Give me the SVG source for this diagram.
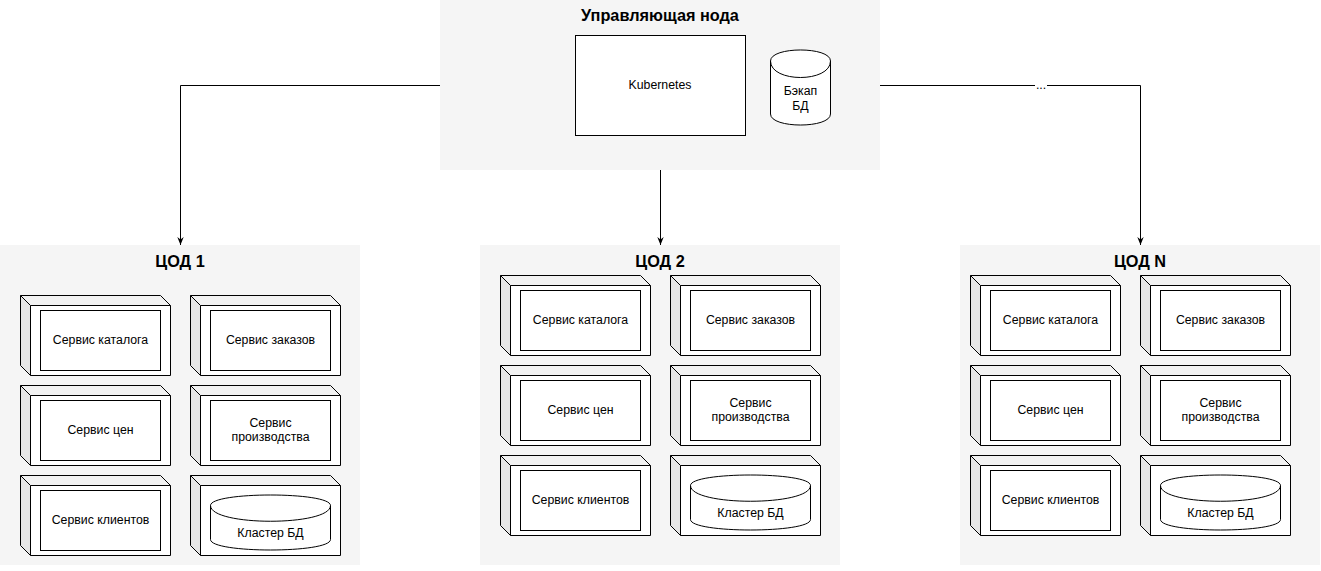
<svg xmlns="http://www.w3.org/2000/svg" xmlns:xlink="http://www.w3.org/1999/xlink" width="1321" height="571" viewBox="0 0 1321 571">
<style>
.bg{fill:#f5f5f5;stroke:none}
.title{font-family:"Liberation Sans",Arial,sans-serif;font-size:16.3px;font-weight:bold;fill:#000;text-anchor:middle}
.lbl{font-family:"Liberation Sans",Arial,sans-serif;font-size:12.3px;fill:#000;text-anchor:middle}
.ln{fill:none;stroke:#000;stroke-width:1}
.w{fill:#fff;stroke:#000;stroke-width:1}
.conn{fill:none;stroke:#000;stroke-width:1}
</style>
<defs>
<marker id="arr" viewBox="0 0 10 10" refX="10" refY="5" markerWidth="8" markerHeight="8" markerUnits="userSpaceOnUse" orient="auto">
<path d="M0,1 L10,5 L0,9 L3,5 Z" fill="#000"/>
</marker>
<g id="node3d">
<path d="M0.5,0.5 H140.5 L150.5,10.5 H10.5 Z" fill="#f2f2f2" stroke="none"/>
<path d="M0.5,0.5 L10.5,10.5 V80.5 L0.5,70.5 Z" fill="#e6e6e6" stroke="none"/>
<rect x="10.5" y="10.5" width="140" height="70" fill="#fff" stroke="none"/>
<path class="ln" d="M0.5,0.5 H140.5 L150.5,10.5 V80.5 H10.5 L0.5,70.5 Z M10.5,80.5 V10.5 L0.5,0.5 M10.5,10.5 H150.5"/>
</g>
<g id="svc">
<use xlink:href="#node3d"/>
<rect class="w" x="20.5" y="15.5" width="120" height="60"/>
</g>
<g id="db">
<use xlink:href="#node3d"/>
<path class="w" d="M20.5,30.5 C20.5,16.5 140.5,16.5 140.5,30.5 V64.5 C140.5,78.5 20.5,78.5 20.5,64.5 Z"/>
<path class="ln" d="M20.5,30.5 C20.5,51.5 140.5,51.5 140.5,30.5"/>
</g>
</defs>

<g id="control-node">
<rect class="bg" x="440" y="0" width="440" height="170"/>
<text class="title" x="660" y="21">Управляющая нода</text>
</g>
<g id="kubernetes">
<rect class="w" x="575.5" y="35.5" width="170" height="100"/>
<text class="lbl" x="660" y="89">Kubernetes</text>
</g>
<g id="backup-db">
<path class="w" d="M770.5,61 C770.5,46.3 830.5,46.3 830.5,61 V114 C830.5,128.7 770.5,128.7 770.5,114 Z"/>
<path class="ln" d="M770.5,61 C770.5,83 830.5,83 830.5,61"/>
<text class="lbl" x="800.5" y="95">Бэкап</text>
<text class="lbl" x="800.5" y="110">БД</text>
</g>

<g id="cod1">
<rect class="bg" x="0" y="245" width="360" height="320"/>
<text class="title" x="180" y="267">ЦОД 1</text>
</g>
<g id="cod1-catalog" transform="translate(20,295)"><use xlink:href="#svc"/><text class="lbl" x="80.5" y="49">Сервис каталога</text></g>
<g id="cod1-orders" transform="translate(190,295)"><use xlink:href="#svc"/><text class="lbl" x="80.5" y="49">Сервис заказов</text></g>
<g id="cod1-prices" transform="translate(20,385)"><use xlink:href="#svc"/><text class="lbl" x="80.5" y="49">Сервис цен</text></g>
<g id="cod1-production" transform="translate(190,385)"><use xlink:href="#svc"/><text class="lbl" x="80.5" y="41.5">Сервис</text><text class="lbl" x="80.5" y="56">производства</text></g>
<g id="cod1-clients" transform="translate(20,475)"><use xlink:href="#svc"/><text class="lbl" x="80.5" y="49">Сервис клиентов</text></g>
<g id="cod1-cluster" transform="translate(190,475)"><use xlink:href="#db"/><text class="lbl" x="80.5" y="62">Кластер БД</text></g>

<g id="cod2">
<rect class="bg" x="480" y="245" width="360" height="320"/>
<text class="title" x="660" y="267">ЦОД 2</text>
</g>
<g id="cod2-catalog" transform="translate(500,275)"><use xlink:href="#svc"/><text class="lbl" x="80.5" y="49">Сервис каталога</text></g>
<g id="cod2-orders" transform="translate(670,275)"><use xlink:href="#svc"/><text class="lbl" x="80.5" y="49">Сервис заказов</text></g>
<g id="cod2-prices" transform="translate(500,365)"><use xlink:href="#svc"/><text class="lbl" x="80.5" y="49">Сервис цен</text></g>
<g id="cod2-production" transform="translate(670,365)"><use xlink:href="#svc"/><text class="lbl" x="80.5" y="41.5">Сервис</text><text class="lbl" x="80.5" y="56">производства</text></g>
<g id="cod2-clients" transform="translate(500,455)"><use xlink:href="#svc"/><text class="lbl" x="80.5" y="49">Сервис клиентов</text></g>
<g id="cod2-cluster" transform="translate(670,455)"><use xlink:href="#db"/><text class="lbl" x="80.5" y="62">Кластер БД</text></g>

<g id="codn">
<rect class="bg" x="960" y="245" width="360" height="320"/>
<text class="title" x="1140" y="267">ЦОД N</text>
</g>
<g id="codn-catalog" transform="translate(970,275)"><use xlink:href="#svc"/><text class="lbl" x="80.5" y="49">Сервис каталога</text></g>
<g id="codn-orders" transform="translate(1140,275)"><use xlink:href="#svc"/><text class="lbl" x="80.5" y="49">Сервис заказов</text></g>
<g id="codn-prices" transform="translate(970,365)"><use xlink:href="#svc"/><text class="lbl" x="80.5" y="49">Сервис цен</text></g>
<g id="codn-production" transform="translate(1140,365)"><use xlink:href="#svc"/><text class="lbl" x="80.5" y="41.5">Сервис</text><text class="lbl" x="80.5" y="56">производства</text></g>
<g id="codn-clients" transform="translate(970,455)"><use xlink:href="#svc"/><text class="lbl" x="80.5" y="49">Сервис клиентов</text></g>
<g id="codn-cluster" transform="translate(1140,455)"><use xlink:href="#db"/><text class="lbl" x="80.5" y="62">Кластер БД</text></g>

<g id="connectors">
<path class="conn" d="M440,85.5 H180.5 V245" marker-end="url(#arr)"/>
<path class="conn" d="M660.5,170 V245" marker-end="url(#arr)"/>
<path class="conn" d="M880,85.5 H1140.5 V245" marker-end="url(#arr)"/>
<rect x="1035" y="80" width="12" height="11" fill="#fff"/>
<text class="lbl" x="1041" y="89">...</text>
</g>
</svg>
